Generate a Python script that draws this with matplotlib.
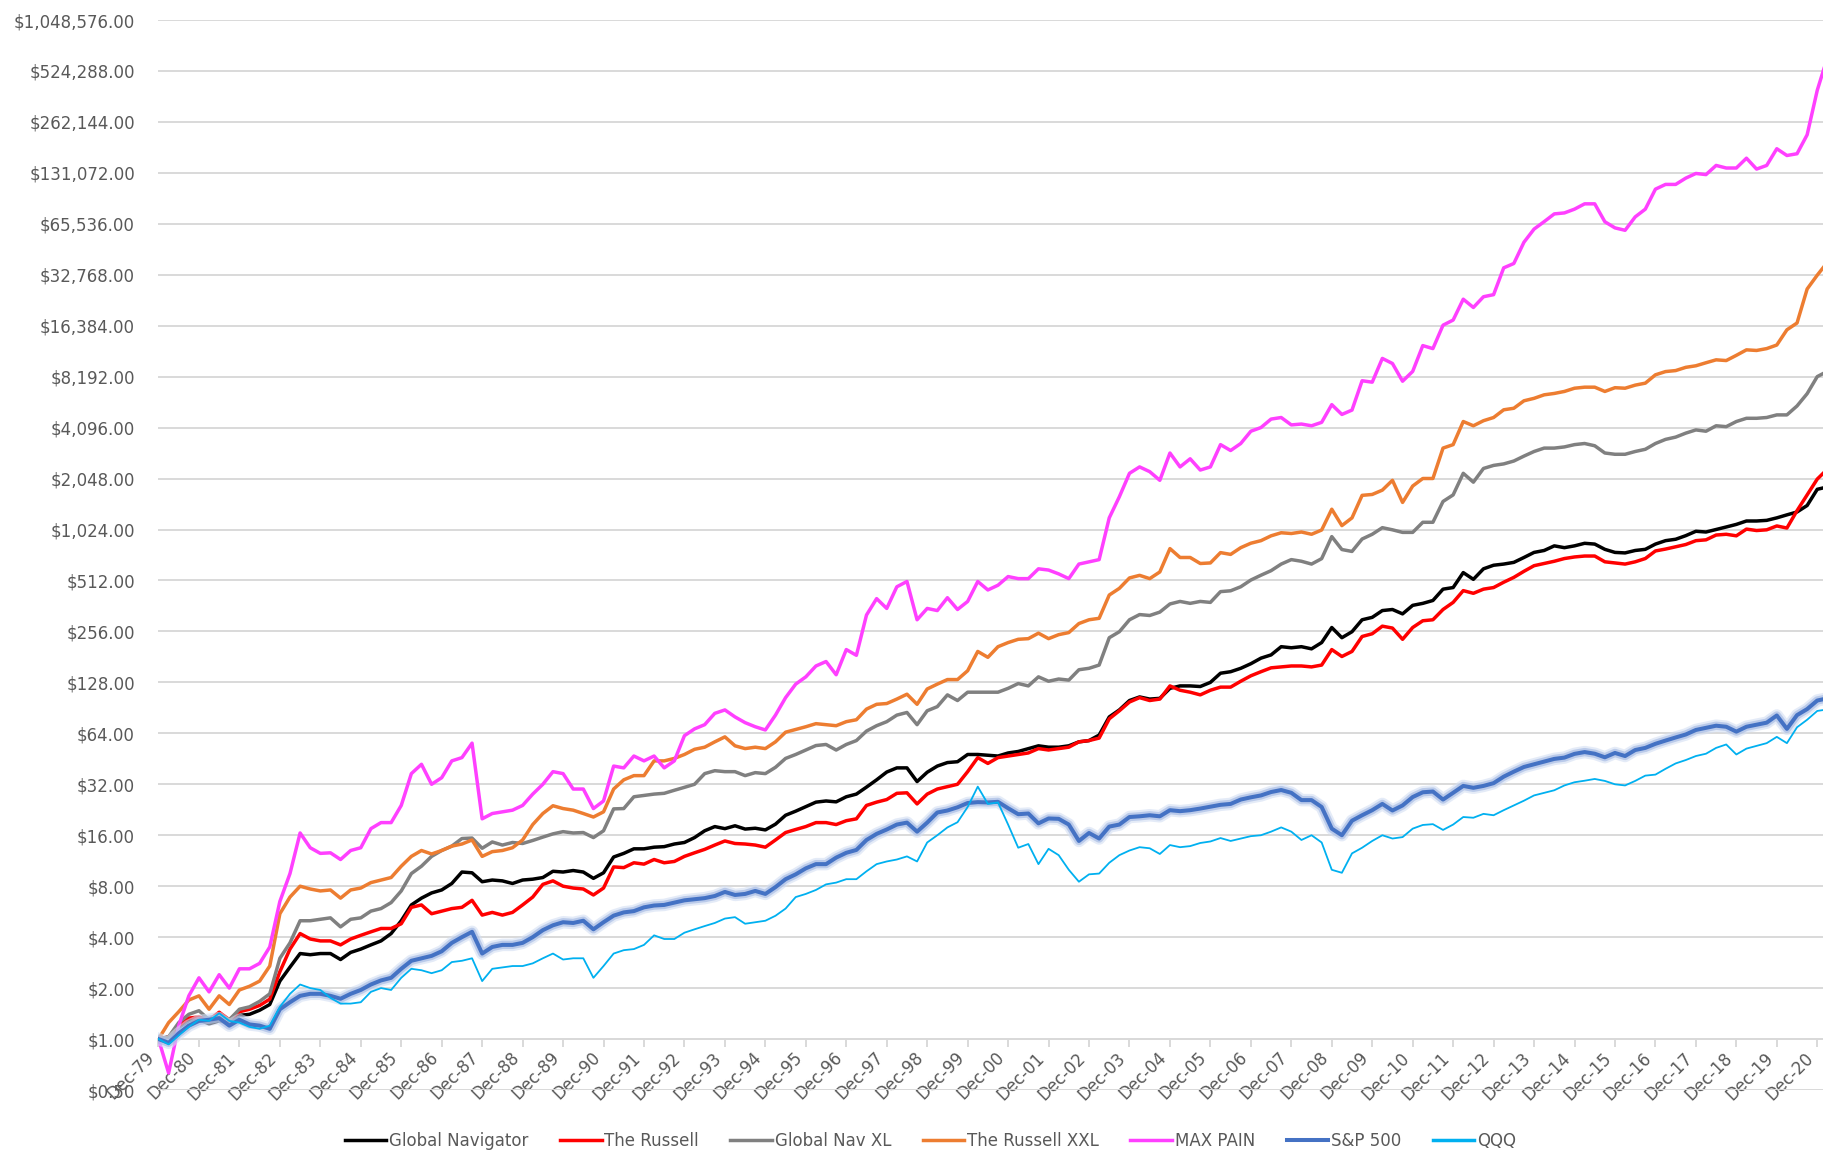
"""
Crescimento de $1 investido (Dec-79 a Fev-21), escala log base 2,
sete estratégias comparadas com S&P 500 e QQQ.
"""

import matplotlib
matplotlib.use("Agg")
import matplotlib.pyplot as plt
import matplotlib.patheffects as pe
from matplotlib.lines import Line2D
from matplotlib.ticker import FixedLocator, FuncFormatter, NullLocator

# meses desde Dec-79, amostra trimestral; o ultimo ponto e ~Fev-21
meses = list(range(0, 493, 3)) + [494]
rotulos_x = [f"Dec-{ano % 100:02d}" for ano in range(1979, 2021)]
potencias_y = list(range(-1, 21))

global_navigator = [
    1.0, 1.03, 1.17, 1.28, 1.3, 1.23, 1.28, 1.25, 1.38, 1.4,
    1.48, 1.6, 2.2, 2.66, 3.2, 3.15, 3.2, 3.2, 2.95, 3.25,
    3.4, 3.6, 3.8, 4.2, 5.0, 6.2, 6.8, 7.3, 7.6, 8.3,
    9.7, 9.6, 8.5, 8.7, 8.6, 8.3, 8.7, 8.8, 9.0, 9.8,
    9.7,
    9.9, 9.7, 8.9, 9.6, 11.9, 12.5, 13.3, 13.3, 13.6, 13.7,
    14.2, 14.5, 15.5, 17, 18.0, 17.5, 18.2, 17.4, 17.6, 17.2,
    18.6, 21, 22.2, 23.6, 25.1, 25.5, 25.2, 27.0, 28.0, 30.8,
    34.0, 37.8, 40.0, 40, 33.2, 37.7, 41, 43, 43.5, 48,
    48, 47.5, 47, 49, 50, 52, 54, 53, 53, 54,
    57, 58, 62.5, 80, 88, 100, 105, 102, 103, 118,
    122, 122, 121, 128, 145, 148, 155, 165, 178, 186,
    208, 205, 208, 202, 220, 270, 235, 255, 300, 310,
    340, 345, 325, 365, 375, 390, 455, 465, 570, 520,
    600, 630, 640, 655, 700, 750, 770, 820, 800, 820,
    849, 840, 782, 750, 745, 770, 782, 840, 880, 897,
    942, 1000, 990, 1024, 1060, 1098, 1150, 1150, 1160, 1200,
    1250, 1300, 1420, 1770, 1808,
]

the_russell = [
    1.0, 1.03, 1.2, 1.33, 1.35, 1.3, 1.44, 1.3, 1.45, 1.5,
    1.58, 1.72, 2.5, 3.4, 4.2, 3.9, 3.8, 3.8, 3.6, 3.9,
    4.1, 4.3, 4.5, 4.5, 4.8, 6.0, 6.2, 5.5, 5.7, 5.9,
    6.0, 6.6, 5.4, 5.6, 5.4, 5.6, 6.2, 6.9, 8.2, 8.6,
    8.0,
    7.8, 7.7, 7.1, 7.8, 10.4, 10.3, 11.0, 10.8, 11.5, 11.0,
    11.2, 12.0, 12.6, 13.2, 14.0, 14.8, 14.3, 14.2, 14.0, 13.6,
    15.0, 16.6, 17.3, 18.0, 19.0, 19.0, 18.5, 19.5, 20.0, 24,
    25.1, 26, 28.3, 28.5, 24.5, 28, 30, 31, 32, 38,
    46, 42.5, 46, 47, 48, 49, 52, 51, 52, 53,
    57, 58, 60, 78, 87, 98, 104, 100, 102, 122,
    115, 112, 108, 115, 120, 120, 130, 140, 148, 156,
    158, 160, 160, 158, 162, 200, 182, 195, 239, 248,
    275, 268, 230, 270, 296, 300, 345, 380, 446, 430,
    455, 465, 500, 534, 580, 626, 645, 665, 690, 705,
    714, 714, 660, 650, 640, 660, 690, 765, 785, 810,
    835, 880, 890, 950, 960, 940, 1030, 1010, 1020, 1075,
    1045, 1323, 1640, 2034, 2225,
]

global_nav_xl = [
    1.0, 1.03, 1.25, 1.4, 1.47, 1.3, 1.38, 1.3, 1.5, 1.55,
    1.67, 1.85, 3.0, 3.7, 5.0, 5.0, 5.1, 5.2, 4.6, 5.1,
    5.2, 5.7, 5.9, 6.4, 7.5, 9.5, 10.5, 12.0, 13.0, 13.8,
    15.3, 15.4, 13.4, 14.6, 14.0, 14.5, 14.3, 14.9, 15.6, 16.3,
    16.8,
    16.5, 16.6, 15.5, 17, 22.9, 23, 27, 27.5, 28, 28.3,
    29.5, 30.7, 32, 37, 38.5, 38, 38, 36, 37.5, 37,
    40.3, 45.5, 48, 51, 54.2, 55, 51, 55, 58, 66,
    71, 75, 82, 85, 72, 87, 92, 108, 100, 112,
    112, 112, 112, 118, 126, 122, 138, 130, 134, 132,
    152, 155, 162, 235, 255, 300, 322, 318, 333, 372,
    385, 375, 385, 380, 440, 445, 470, 515, 550, 585,
    640, 680, 665, 640, 689, 930, 780, 760, 900, 960,
    1050, 1020, 985, 985, 1130, 1130, 1500, 1640, 2200, 1950,
    2350, 2450, 2500, 2600, 2780, 2960, 3100, 3100, 3150, 3250,
    3300, 3200, 2900, 2850, 2850, 2960, 3050, 3300, 3490, 3600,
    3800, 3970, 3900, 4200, 4150, 4450, 4650, 4650, 4700, 4870,
    4870, 5500, 6500, 8200, 8600,
]

the_russell_xxl = [
    1.0, 1.25, 1.45, 1.7, 1.8, 1.5, 1.8, 1.6, 1.95, 2.05,
    2.2, 2.7, 5.5, 6.9, 8.0, 7.7, 7.5, 7.6, 6.8, 7.6,
    7.8, 8.4, 8.7, 9.0, 10.5, 12.0, 13.0, 12.4, 13.0, 13.8,
    14.2, 15.0, 12.0, 12.8, 13.0, 13.5, 15.0, 18.5, 21.5, 23.9,
    23.0,
    22.5, 21.5, 20.5, 22, 30, 34, 36, 36, 44, 44,
    45.5, 48, 51.5, 53, 57, 61, 54, 52, 53, 52,
    57, 65, 67.5, 70, 73, 72, 71, 75, 77, 89,
    95, 96, 102, 109, 95, 117, 125, 133, 133, 150,
    195, 180, 208, 220, 230, 232, 250, 232, 245, 252,
    285, 300, 306, 420, 460, 530, 549, 525, 575, 790,
    700, 700, 645, 650, 748, 730, 800, 850, 880, 940,
    980, 970, 990, 960, 1017, 1350, 1080, 1200, 1630, 1650,
    1750, 2000, 1480, 1850, 2050, 2050, 3100, 3250, 4450, 4200,
    4500, 4700, 5220, 5330, 5900, 6100, 6400, 6520, 6700, 7000,
    7100, 7100, 6700, 7050, 7000, 7300, 7500, 8400, 8780, 8900,
    9300, 9500, 9900, 10300, 10200, 10950, 11800, 11700, 12000, 12600,
    15500, 17000, 27000, 32600, 36600,
]

max_pain = [
    1.0, 0.63, 1.2, 1.8, 2.3, 1.9, 2.4, 2.0, 2.6, 2.6,
    2.8, 3.5, 6.5, 9.5, 16.5, 13.5, 12.5, 12.6, 11.5, 13,
    13.5, 17.5, 19, 19, 24, 37, 42, 32, 35, 44,
    46, 56, 20, 21.5, 22, 22.5, 24, 28, 32, 38,
    37,
    30, 30, 23, 25.5, 41, 40, 47, 44, 47, 40,
    44, 62, 68, 72, 84, 88, 80, 74, 70, 67,
    82, 104, 125, 138, 160, 170, 142, 200, 185, 320,
    400, 350, 470, 505, 300, 350, 340, 405, 345, 385,
    505, 450, 480, 540, 525, 525, 600, 590, 560, 525,
    640, 660, 680, 1200, 1600, 2200, 2400, 2250, 2000, 2900,
    2400, 2680, 2300, 2400, 3250, 3000, 3300, 3900, 4100, 4600,
    4700, 4250, 4300, 4200, 4400, 5600, 4900, 5200, 7750, 7600,
    10500, 9800, 7700, 8800, 12500, 12000, 16500, 17700, 23500, 21000,
    24300, 25000, 36000, 38200, 51000, 61000, 67500, 75000, 76000, 80000,
    86000, 86000, 67400, 62000, 60000, 72000, 80000, 105000, 112000, 112000,
    122000, 130000, 128000, 145000, 140000, 140000, 160000, 138000, 145000, 182000,
    166000, 170000, 220000, 403000, 542000,
]

sp500 = [
    1.0, 0.95, 1.08, 1.2, 1.28, 1.3, 1.33, 1.2, 1.3, 1.22,
    1.2, 1.15, 1.5, 1.65, 1.8, 1.85, 1.85, 1.8, 1.73, 1.85,
    1.95, 2.1, 2.22, 2.3, 2.6, 2.9, 3.0, 3.1, 3.3, 3.7,
    4.0, 4.3, 3.2, 3.5, 3.6, 3.6, 3.7, 4.0, 4.4, 4.7,
    4.9,
    4.85, 5.0, 4.45, 4.9, 5.36, 5.6, 5.7, 6.0, 6.15, 6.2,
    6.4, 6.6, 6.7, 6.8, 7.0, 7.4, 7.1, 7.2, 7.5, 7.2,
    7.9, 8.8, 9.4, 10.2, 10.8, 10.8, 11.8, 12.6, 13.1, 15,
    16.3, 17.3, 18.5, 19.0, 16.8, 19, 21.8, 22.4, 23.4, 24.8,
    25.1, 25, 25.2, 23.1, 21.3, 21.5, 18.8, 20.1, 20.0, 18.5,
    14.8, 16.5, 15.3, 18.0, 18.5, 20.5, 20.7, 21.0, 20.7, 22.5,
    22.2, 22.5, 23.0, 23.6, 24.2, 24.5, 26, 26.8, 27.5, 28.8,
    29.6, 28.5, 25.8, 25.8, 23.5, 17.5, 16.0, 19.5, 21.0, 22.5,
    24.5, 22.4, 24.0, 26.9, 28.7, 29, 26, 28.5, 31.3, 30.5,
    31.3, 32.5, 35.5, 38, 40.5, 42, 43.5, 45.2, 46, 48.4,
    49.6, 48.5, 46.2, 49, 47, 51, 52.5, 55.5, 58, 60.5,
    63, 67, 69, 71, 70, 65.5, 70, 72, 74, 81.6,
    68, 82, 89, 100, 102,
]

qqq = [
    1.0, 0.93, 1.05, 1.18, 1.3, 1.28, 1.42, 1.28, 1.25, 1.18,
    1.15, 1.2, 1.55, 1.85, 2.1, 2.0, 1.95, 1.75, 1.62, 1.62,
    1.65, 1.9, 2.0, 1.95, 2.3, 2.6, 2.55, 2.45, 2.55, 2.85,
    2.9, 3.0, 2.2, 2.6, 2.65, 2.7, 2.7, 2.8, 3.0, 3.2,
    2.95,
    3.0, 3.0, 2.3, 2.7, 3.2, 3.35, 3.4, 3.6, 4.1, 3.9,
    3.9, 4.25, 4.45, 4.65, 4.85, 5.15, 5.25, 4.8, 4.9, 5.0,
    5.35, 5.9, 6.9, 7.2, 7.6, 8.2, 8.4, 8.8, 8.8, 9.8,
    10.8, 11.2, 11.5, 12.0, 11.2, 14.5, 16.0, 17.8, 19.1, 23.5,
    31, 24.5, 25, 18.5, 13.5, 14.2, 10.8, 13.3, 12.2, 10.0,
    8.5, 9.4, 9.5, 11.0, 12.2, 13, 13.6, 13.4, 12.4, 14,
    13.6, 13.8, 14.4, 14.7, 15.4, 14.8, 15.3, 15.8, 16, 16.8,
    17.8, 16.8, 15, 16.0, 14.5, 10.0, 9.6, 12.5, 13.5, 14.8,
    16, 15.3, 15.6, 17.5, 18.4, 18.6, 17.2, 18.5, 20.5, 20.3,
    21.4, 21.0, 22.5, 24, 25.6, 27.5, 28.5, 29.5, 31.5, 32.9,
    33.6, 34.4, 33.5, 32, 31.5, 33.5, 36, 36.5, 39.5, 42.5,
    44.5, 47, 48.5, 52.5, 55, 48, 52, 54, 56, 61,
    56, 69.5, 77, 86.8, 88,
]

series = [
    ("Global Navigator", global_navigator, "#000000", 2.5),
    ("The Russell", the_russell, "#FF0000", 2.5),
    ("Global Nav XL", global_nav_xl, "#808080", 2.5),
    ("The Russell XXL", the_russell_xxl, "#ED7D31", 2.5),
    ("MAX PAIN", max_pain, "#FF40FF", 2.5),
    ("S&P 500", sp500, "#4472C4", 2.9),
    ("QQQ", qqq, "#00B0F0", 1.3),
]

CINZA_TEXTO = "#595959"
CINZA_GRADE = "#D9D9D9"


def desenhar():
    """Monta o grafico e salva em out.png"""
    plt.rcParams["font.family"] = ["DejaVu Sans"]
    fig = plt.figure(figsize=(18.24, 11.52), dpi=100)
    ax = fig.add_axes([158.5 / 1824, 62 / 1152, 1 - 158.5 / 1824, 1070 / 1152])

    alcas = []
    for i, (nome, valores, cor, largura) in enumerate(series):
        efeitos = None
        if nome == "S&P 500":
            # brilho suave em volta da linha, como no Excel
            efeitos = [
                pe.Stroke(linewidth=9, foreground="#D3DEF3", alpha=0.6),
                pe.Stroke(linewidth=6, foreground="#A9BDE5", alpha=0.7),
                pe.Normal(),
            ]
        ax.plot(meses, valores, color=cor, lw=largura, zorder=3 + i,
                solid_joinstyle="round", path_effects=efeitos)
        alcas.append(Line2D([0], [0], color=cor, lw=max(largura, 2.5)))

    ax.set_yscale("log", base=2)
    ax.set_ylim(0.5, 2.0 ** 20)
    ax.set_xlim(0, 494)

    ax.yaxis.set_major_locator(FixedLocator([2.0 ** p for p in potencias_y]))
    ax.yaxis.set_minor_locator(NullLocator())
    ax.yaxis.set_major_formatter(FuncFormatter(lambda v, _: f"${v:,.2f}"))
    ax.grid(axis="y", color=CINZA_GRADE, lw=1.4)
    ax.set_axisbelow(True)

    for lado in ("top", "right", "left"):
        ax.spines[lado].set_visible(False)
    ax.spines["bottom"].set_position(("data", 1.0))
    ax.spines["bottom"].set_color(CINZA_GRADE)
    ax.spines["bottom"].set_linewidth(1.4)

    ax.set_xticks(list(range(0, 493, 12)))
    ax.set_xticklabels(rotulos_x, rotation=45, ha="right")
    ax.tick_params(axis="x", length=6, width=1.4, color=CINZA_GRADE,
                   labelsize=12, labelcolor=CINZA_TEXTO, pad=1)
    ax.tick_params(axis="y", length=0, labelsize=12,
                   labelcolor=CINZA_TEXTO, pad=17)

    fig.legend(alcas, [s[0] for s in series], loc="lower center",
               bbox_to_anchor=(0.51, -0.011), ncol=7, frameon=False,
               fontsize=12, labelcolor=CINZA_TEXTO, handlelength=2.5,
               handletextpad=0.15, columnspacing=1.9)

    fig.savefig("out.png", dpi=100)
    plt.close(fig)


desenhar()
